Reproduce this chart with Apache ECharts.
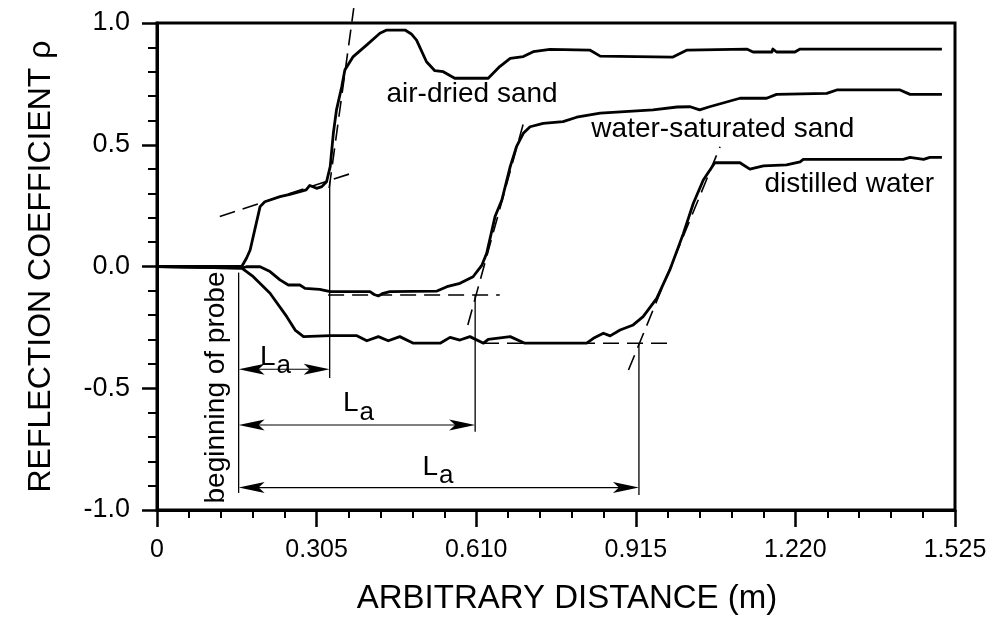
<!DOCTYPE html>
<html><head><meta charset="utf-8">
<script src="https://cdn.jsdelivr.net/npm/echarts@6/dist/echarts.min.js"></script>
<style>html,body{margin:0;padding:0;background:#fff}#c{width:1003px;height:630px}</style>
</head><body><div id="c"></div>
<script>
// ---------- data ----------
const xTicks = [0, 0.305, 0.610, 0.915, 1.220, 1.525];
const xTickLabels = ['0', '0.305', '0.610', '0.915', '1.220', '1.525'];
const yTicks = [-1, -0.5, 0, 0.5, 1];
const yTickLabels = ['-1.0', '-0.5', '0.0', '0.5', '1.0'];

const seriesNames = ['air-dried sand', 'water-saturated sand', 'distilled water'];

const airDriedSand = [
 [0,0],[0.162,0],[0.171,0.034],[0.178,0.068],[0.197,0.246],[0.206,0.266],[0.235,0.287],[0.254,0.296],
 [0.273,0.307],[0.285,0.315],[0.292,0.333],[0.305,0.321],[0.315,0.328],[0.324,0.348],[0.331,0.410],
 [0.337,0.547],[0.343,0.643],[0.353,0.738],[0.359,0.807],[0.375,0.862],[0.401,0.910],[0.426,0.958],
 [0.439,0.971],[0.474,0.971],[0.486,0.955],[0.496,0.930],[0.515,0.841],[0.531,0.804],[0.547,0.800],
 [0.569,0.773],[0.633,0.773],[0.655,0.821],[0.675,0.855],[0.700,0.862],[0.719,0.882],[0.751,0.892],
 [0.827,0.889],[0.847,0.864],[0.986,0.860],[1.013,0.889],[1.127,0.893],[1.139,0.881],[1.175,0.881],
 [1.177,0.893],[1.184,0.881],[1.219,0.881],[1.229,0.893],[1.500,0.893]
];
const waterSaturatedSand = [
 [0,0],[0.162,-0.007],[0.171,-0.001],[0.197,-0.001],[0.216,-0.021],[0.235,-0.055],[0.251,-0.076],
 [0.273,-0.076],[0.283,-0.090],[0.311,-0.094],[0.331,-0.103],[0.407,-0.103],[0.415,-0.115],[0.423,-0.121],
 [0.432,-0.110],[0.445,-0.103],[0.535,-0.101],[0.554,-0.083],[0.579,-0.069],[0.604,-0.042],[0.621,0.006],
 [0.630,0.054],[0.646,0.205],[0.659,0.273],[0.675,0.410],[0.687,0.492],[0.700,0.547],[0.713,0.574],
 [0.738,0.588],[0.776,0.595],[0.802,0.613],[0.847,0.630],[0.948,0.643],[0.994,0.655],[1.019,0.656],
 [1.037,0.643],[1.056,0.656],[1.114,0.691],[1.165,0.691],[1.184,0.707],[1.280,0.711],[1.299,0.725],
 [1.420,0.725],[1.439,0.707],[1.500,0.707]
];
const distilledWater = [
 [0,0],[0.162,-0.007],[0.184,-0.042],[0.216,-0.110],[0.248,-0.206],[0.264,-0.261],[0.280,-0.288],
 [0.331,-0.284],[0.382,-0.284],[0.401,-0.305],[0.423,-0.288],[0.442,-0.305],[0.464,-0.288],[0.490,-0.315],
 [0.541,-0.315],[0.560,-0.291],[0.579,-0.302],[0.598,-0.288],[0.624,-0.315],[0.633,-0.299],[0.675,-0.288],
 [0.703,-0.315],[0.821,-0.315],[0.834,-0.295],[0.853,-0.274],[0.866,-0.285],[0.885,-0.261],[0.910,-0.240],
 [0.929,-0.206],[0.955,-0.131],[0.980,-0.014],[1.006,0.136],[1.025,0.260],[1.044,0.355],[1.066,0.426],
 [1.114,0.426],[1.133,0.400],[1.159,0.413],[1.203,0.417],[1.229,0.430],[1.235,0.440],[1.426,0.440],
 [1.439,0.448],[1.465,0.440],[1.477,0.448],[1.500,0.448]
];

// dashed tangent / baseline construction lines: [start, end]
const tangentLines = [
 [[0.120,0.205],[0.372,0.383]],
 [[0.329,0.322],[0.376,1.061]],
 [[0.327,-0.117],[0.655,-0.117]],
 [[0.594,-0.240],[0.702,0.602]],
 [[0.623,-0.315],[0.980,-0.315]],
 [[0.901,-0.425],[1.076,0.492]]
];
// thin vertical lines: [x, yTop, yBottom]
const verticalLines = [[0.156,-0.025,-0.930],[0.330,0.349,-0.458],[0.608,-0.117,-0.679],[0.921,-0.315,-0.938]];
// double arrows: [xStart, xEnd, y]
const arrows = [[0.156,0.330,-0.422],[0.156,0.608,-0.651],[0.156,0.921,-0.908]];

const curveLabelX = [0.4395, 0.831, 1.162];
const curveLabelY = [0.704, 0.561, 0.335];
const laLabelX = [0.2274, 0.386, 0.538];
const laLabelY = [-0.373, -0.565, -0.825];
const probeLabel = 'beginning of probe';
const probeLabelX = 0.1147, probeLabelY = -0.499;

// ---------- chart ----------
const FONT = "'Liberation Sans', Arial, Helvetica, sans-serif";
const chart = echarts.init(document.getElementById('c'), null, {renderer: 'canvas'});

function tickLabel(ticks, labels) {
  return v => { let best = 0; ticks.forEach((t, i) => { if (Math.abs(t - v) < Math.abs(ticks[best] - v)) best = i; }); return labels[best]; };
}

const curveSeries = [airDriedSand, waterSaturatedSand, distilledWater].map((d, i) => ({
  name: seriesNames[i], type: 'line', data: d, showSymbol: false, symbol: 'none',
  lineStyle: {color: '#000', width: 2.8, join: 'round'}, z: 5, animation: false, silent: true
}));

const tangentSeries = tangentLines.map(seg => ({
  type: 'line', data: seg, showSymbol: false, symbol: 'none', clip: false,
  lineStyle: {color: '#000', width: 1.6, type: [16, 8]}, z: 4, animation: false, silent: true
}));

const verticalSeries = {
  type: 'custom', coordinateSystem: 'cartesian2d', animation: false, silent: true, clip: false,
  data: verticalLines, encode: {x: 0, y: [1, 2]},
  renderItem: (params, api) => {
    const a = api.coord([api.value(0), api.value(1)]), b = api.coord([api.value(0), api.value(2)]);
    return {type: 'line', shape: {x1: a[0], y1: a[1], x2: b[0], y2: b[1]}, style: {stroke: '#000', lineWidth: 1.3}};
  }, z: 4
};

const arrowSeries = {
  type: 'custom', coordinateSystem: 'cartesian2d', animation: false, silent: true, clip: false,
  data: arrows, encode: {x: [0, 1], y: 2},
  renderItem: (params, api) => {
    const y = api.value(2);
    const p1 = api.coord([api.value(0), y]), p2 = api.coord([api.value(1), y]);
    const L = 26, W = 5.5, N = 20;
    return {type: 'group', children: [
      {type: 'line', shape: {x1: p1[0] + 10, y1: p1[1], x2: p2[0] - 10, y2: p2[1]}, style: {stroke: '#000', lineWidth: 1.2}},
      {type: 'polygon', shape: {points: [[p1[0], p1[1]], [p1[0] + L, p1[1] - W], [p1[0] + N, p1[1]], [p1[0] + L, p1[1] + W]]}, style: {fill: '#000'}},
      {type: 'polygon', shape: {points: [[p2[0], p2[1]], [p2[0] - L, p2[1] - W], [p2[0] - N, p2[1]], [p2[0] - L, p2[1] + W]]}, style: {fill: '#000'}}
    ]};
  }, z: 4
};

const hiddenItem = {color: 'rgba(0,0,0,0)', opacity: 1, borderWidth: 0};

const curveLabelSeries = {
  type: 'scatter', symbolSize: 1, itemStyle: hiddenItem, animation: false, silent: true, z: 6,
  data: seriesNames.map((n, i) => ({value: [curveLabelX[i], curveLabelY[i]], name: n})),
  label: {show: true, position: [0, 0], align: 'left', verticalAlign: 'middle', formatter: p => p.name,
          color: '#000', opacity: 1, fontFamily: FONT, fontSize: 28}
};

const laSeries = {
  type: 'scatter', symbolSize: 1, itemStyle: hiddenItem, animation: false, silent: true, z: 6,
  data: laLabelX.map((x, i) => [x, laLabelY[i]]),
  label: {show: true, position: [0, 0], align: 'center', verticalAlign: 'middle', formatter: '{L|L}{a|a}', opacity: 1,
          rich: {
            L: {fontFamily: FONT, fontSize: 28, lineHeight: 28, verticalAlign: 'top', color: '#000'},
            a: {fontFamily: FONT, fontSize: 26, lineHeight: 26, padding: [10, 0, 0, 1], verticalAlign: 'top', color: '#000'}
          }}
};

const probeSeries = {
  type: 'scatter', symbolSize: 1, itemStyle: hiddenItem, animation: false, silent: true, z: 6,
  data: [{value: [probeLabelX, probeLabelY], name: probeLabel}],
  label: {show: true, position: [0, 0], align: 'center', verticalAlign: 'middle', rotate: 90, formatter: p => p.name,
          color: '#000', opacity: 1, fontFamily: FONT, fontSize: 28}
};

chart.setOption({
  animation: false,
  backgroundColor: '#fff',
  grid: {left: 157, right: 48, top: 23, bottom: 120, show: true, borderColor: '#000', borderWidth: 3, backgroundColor: 'transparent'},
  xAxis: {
    type: 'value', min: 0, max: 1.525, interval: 0.305,
    name: 'ARBITRARY DISTANCE (m)', nameLocation: 'middle', nameGap: 72,
    nameTextStyle: {fontFamily: FONT, fontSize: 33, color: '#000', padding: [0, 0, 0, 22]},
    axisLine: {show: true, onZero: false, lineStyle: {color: '#000', width: 3}},
    axisTick: {show: true, length: 17, lineStyle: {color: '#000', width: 2.5}},
    minorTick: {show: true, splitNumber: 5, length: 8, lineStyle: {color: '#000', width: 2}},
    splitLine: {show: false}, minorSplitLine: {show: false},
    axisLabel: {margin: 28, fontFamily: FONT, fontSize: 25, color: '#000', formatter: tickLabel(xTicks, xTickLabels)}
  },
  yAxis: {
    type: 'value', min: -1, max: 1, interval: 0.5,
    name: 'REFLECTION COEFFICIENT ρ', nameLocation: 'middle', nameGap: 100,
    nameTextStyle: {fontFamily: FONT, fontSize: 32, color: '#000'},
    axisLine: {show: true, onZero: false, lineStyle: {color: '#000', width: 3}},
    axisTick: {show: true, length: 15, lineStyle: {color: '#000', width: 2.5}},
    minorTick: {show: true, splitNumber: 5, length: 9, lineStyle: {color: '#000', width: 2}},
    splitLine: {show: false}, minorSplitLine: {show: false},
    axisLabel: {margin: 27, fontFamily: FONT, fontSize: 27, color: '#000', formatter: tickLabel(yTicks, yTickLabels)}
  },
  series: [...curveSeries, ...tangentSeries, verticalSeries, arrowSeries, curveLabelSeries, laSeries, probeSeries]
});
</script></body></html>
